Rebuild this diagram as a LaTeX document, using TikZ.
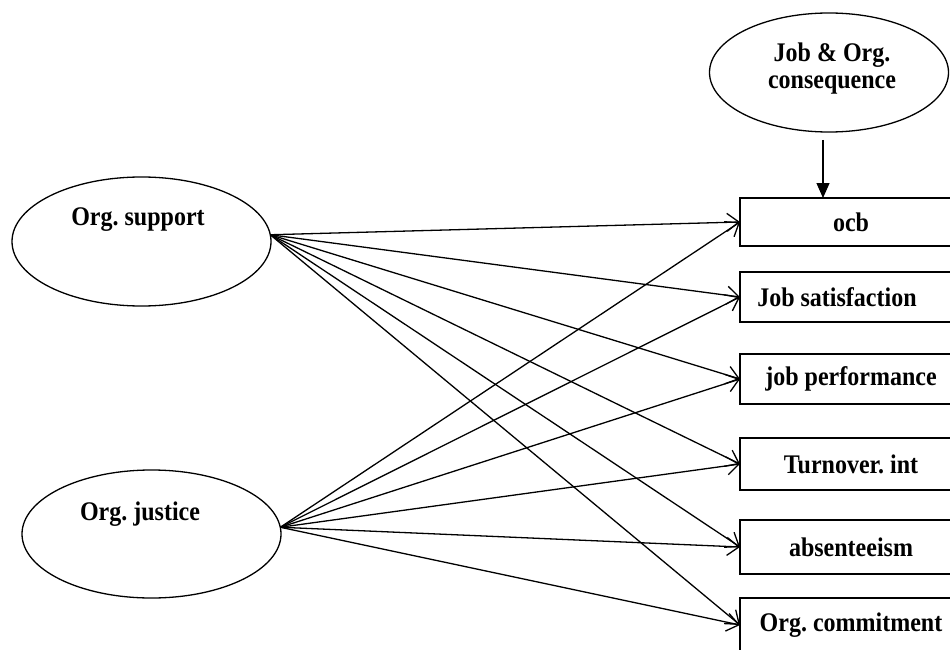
\documentclass[tikz,border=0pt]{standalone}
\usepackage{fontspec}
\setmainfont{Liberation Serif}
\usetikzlibrary{shapes.geometric,arrows.meta}
\newcommand{\tallT}[1]{\scalebox{1}[1.12]{#1}}
\begin{document}
\frenchspacing
\begin{tikzpicture}[x=1pt,y=-1pt,
  lw/.style={line width=1.3pt},
  oval/.style={ellipse,draw,lw,inner sep=0pt,outer sep=0pt},
  lbl/.style={font=\fontsize{24}{28}\selectfont\bfseries,inner sep=0pt,align=center},
  box/.style={rectangle,draw,lw,anchor=west,minimum width=222pt,minimum height=50pt,inner sep=0pt,outer sep=0pt,font=\fontsize{24}{28}\selectfont\bfseries},
  conn/.style={lw,-{Straight Barb[length=12pt,width=18pt,line width=1.3pt]}},
  down/.style={lw,-{Triangle[length=15pt,width=13pt]}}
]
\useasboundingbox (0,0) rectangle (950,650);
% ellipses
\node[oval,minimum width=259pt,minimum height=129pt] (sup) at (141.5,241.5) {};
\node[lbl] (supL) at (138,220) {\tallT{Org. support}};
\node[oval,minimum width=259pt,minimum height=128pt] (jus) at (151.5,534) {};
\node[lbl] (jusL) at (140,514) {\tallT{Org. justice}};
\node[oval,minimum width=239pt,minimum height=119pt] (con) at (829,72.5) {};
\node[lbl] (conL1) at (832,55) {\tallT{Job \& Org.}};
\node[lbl] (conL2) at (832,85) {\tallT{consequence}};
% boxes
\node[box,minimum height=48pt] (ocb) at (740,222) {\tallT{ocb}};
\node[box] (js) at (740,297) {\hspace*{-28pt}\tallT{Job satisfaction}};
\node[box] (jp) at (740,379) {\tallT{job performance}};
\node[box,minimum height=52pt] (ti) at (740,464) {\tallT{Turnover. int}};
\node[box,minimum height=54pt] (ab) at (740,547) {\tallT{absenteeism}};
\node[box,minimum height=54pt] (oc) at (740,625) {\tallT{Org. commitment}};
% down arrow
\coordinate (dtop) at (823,140);
\draw[down] (dtop) -- (dtop |- ocb.north);
% connectors
\foreach \t in {ocb,js,jp,ti,ab,oc}{
  \draw[conn] (sup.3) -- (\t.west);
  \draw[conn] (jus.3) -- (\t.west);
}
\end{tikzpicture}
\end{document}
